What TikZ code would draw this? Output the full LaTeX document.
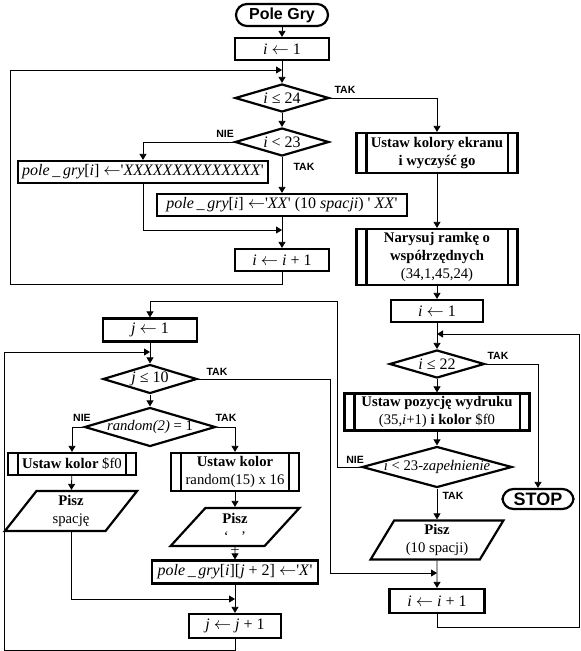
\documentclass[tikz,border=0pt]{standalone}
\usepackage{fontspec}
\setmainfont{Liberation Serif}
\newfontfamily\arial{Liberation Sans}
\usetikzlibrary{shapes.geometric, arrows.meta}
\newcommand{\qt}{\textquotesingle}
\newcommand{\nowidth}[1]{\makebox[0pt]{#1}}
\newcommand{\la}{\ensuremath{\leftarrow}}

\begin{document}
\begin{tikzpicture}[
            x = 1pt, y = -1pt,
            every node/.style={align=center, font=\fontsize{14.7}{18}\selectfont},
            line/.style={line width = .8pt},
            arrow/.style={line, -{Triangle[length=6pt, width=7pt]}},
            box/.style={draw, line width = 2.2pt, inner sep=1pt},
            expr/.style={font=\fontsize{16}{18}\selectfont},
            proc/.style={box, font=\bfseries\fontsize{14.7}{18}\selectfont},
            term/.style={box, rounded corners=11pt, font=\arial\bfseries\fontsize{16}{18}\selectfont},
            cond/.style={box, diamond, inner sep=0pt},
            io/.style={box, trapezium, trapezium left angle=62, trapezium right angle=118, trapezium stretches=true},
            lbl/.style={font=\arial\bfseries\fontsize{10.5}{11}\selectfont},
            ]
        \useasboundingbox (0,0) rectangle (581,651);

        % first loop
        \node[term, minimum width=92pt, minimum height=22pt] (start) at (282,15) {Pole Gry};
        \node[box, expr, minimum width=94pt, minimum height=22pt] (i1) at (282,49) {\textit{i} \la\ 1};
        \coordinate (m1) at (282,70);
        \node[cond, expr, minimum width=94pt, minimum height=28pt] (d1) at (282,98) {\nowidth{\textit{i} ≤ 24}};
        \node[cond, expr, minimum width=94pt, minimum height=28pt] (d2) at (282,142) {\nowidth{\textit{i} < 23}};
        \node[box, expr, minimum width=250pt, minimum height=22pt] (b1) at (143,172)
            {\textit{pole\,\_\,gry}[\textit{i}] \la\qt\textit{XXXXXXXXXXXXXX}\qt};
        \node[box, expr, minimum width=250pt, minimum height=22pt] (b2) at (282,205)
            {\textit{pole\,\_\,gry}[\textit{i}] \la\qt\textit{XX}\qt\ (10 \textit{spacji})\ \qt\ \textit{XX}\qt};
        \coordinate (m2) at (282,230);
        \node[box, expr, minimum width=94pt, minimum height=22pt] (inc1) at (282,260) {\textit{i} \la\ \textit{i} + 1};
        \coordinate (loop1) at (10,284);

        % right column
        \node[proc, minimum width=161pt, minimum height=40pt] (p1) at (437,153) {Ustaw kolory ekranu\\i wyczyść go};
        \node[proc, minimum width=161pt, minimum height=56pt] (p2) at (437,257)
            {Narysuj ramkę o\\współrzędnych\\\textmd{(34,1,45,24)}};
        \node[box, expr, minimum width=92pt, minimum height=22pt] (i2) at (437,311) {\textit{i} \la\ 1};
        \coordinate (m3) at (437,334);
        \node[cond, expr, minimum width=95pt, minimum height=28pt] (d3) at (437,364) {\nowidth{\textit{i} ≤ 22}};
        \node[proc, minimum width=185pt, minimum height=37pt] (p3) at (437,412)
            {Ustaw pozycję wydruku\\\textmd{(35,\textit{i}+1)} i kolor \textmd{\$f0}};
        \node[cond, minimum width=150pt, minimum height=41pt] (d4) at (437,467)
            {\nowidth{\textit{i} < 23-\textit{zapełnienie}}};
        \node[term, minimum width=71pt, minimum height=20pt, font=\arial\bfseries\fontsize{18}{20}\selectfont] (stop) at (538,499) {STOP};
        \node[io, minimum width=133pt, minimum height=39pt] (io1) at (437,540) {\textbf{Pisz}\\(10 spacji)};
        \coordinate (m4) at (437,573);
        \node[box, expr, minimum width=95pt, minimum height=24pt] (inc2) at (437,601) {\textit{i} \la\ \textit{i} + 1};
        \coordinate (loop2) at (579,627);

        % second loop
        \coordinate (c1) at (337,301);
        \coordinate (c2) at (330,379);
        \node[box, expr, minimum width=94pt, minimum height=23pt] (j1) at (150,330) {\textit{j} \la\ 1};
        \coordinate (m5) at (150,352);
        \node[cond, expr, minimum width=94pt, minimum height=29pt] (d5) at (150,379) {\nowidth{\textit{j} ≤ 10}};
        \node[cond, minimum width=131pt, minimum height=39pt] (d6) at (150,427) {\nowidth{\textit{random(2)} = 1}};
        \node[proc, minimum width=128pt, minimum height=22pt] (p4) at (72,464) {Ustaw kolor \textmd{\$f0}};
        \node[proc, minimum width=128pt, minimum height=38pt] (p5) at (235,472) {Ustaw kolor\\\textmd{random(15) x 16}};
        \node[io, minimum width=133pt, minimum height=40pt] (io2) at (71,511) {\textbf{Pisz}\\spację};
        \node[io, minimum width=129pt, minimum height=38pt] (io3) at (235,527)
            {\textbf{Pisz}\\‘\,\smash{\raisebox{-7pt}{\_}}\,’};
        \node[box, expr, minimum width=166pt, minimum height=23pt] (b3) at (235,572)
            {\textit{pole\,\_\,gry}[\textit{i}][\textit{j} + 2] \la\qt\textit{X}\qt};
        \coordinate (m6) at (235,599);
        \node[box, expr, minimum width=92pt, minimum height=24pt] (inc3) at (235,626) {\textit{j} \la\ \textit{j} + 1};
        \coordinate (loop3) at (4,650);

        % double bars
        \foreach \n in {p1, p2, p3, p4, p5}
            \draw[line width = 2.2pt] ([xshift=11pt]\n.north west) -- ([xshift=11pt]\n.south west)
                                      ([xshift=-11pt]\n.north east) -- ([xshift=-11pt]\n.south east);

        % labels
        \node[lbl] (t1) at (345,90) {TAK};
        \node[lbl] (n1) at (225,134) {NIE};
        \node[lbl] (t2) at (304,167) {TAK};
        \node[lbl] (t3) at (498,356) {TAK};
        \node[lbl] (n2) at (355,460) {NIE};
        \node[lbl] (t4) at (453,496) {TAK};
        \node[lbl] (t5) at (217,372) {TAK};
        \node[lbl] (n3) at (82,418) {NIE};
        \node[lbl] (t6) at (226,418) {TAK};

        % connectors
        \foreach \a/\b in {start/i1, i1/d1, d1/d2, d2/b2, b2/inc1, p1/p2, p2/i2, i2/d3, d3/p3, p3/d4,
                           d4/io1, io1/inc2, j1/d5, d5/d6, p4/io2, p5/io3, io3/b3, b3/inc3}
            \draw[arrow] (\a) -- (\b);

        \draw[arrow] (d1.east) -| (p1.north);
        \draw[arrow] (d2.west) -| (b1.north);
        \draw[arrow] (b1.south) |- (m2);
        \draw[arrow] (inc1.south) |- (loop1) |- (m1);
        \draw[arrow] (d3.east) -| (stop.north);
        \draw[arrow] (inc2.south) |- (loop2) |- (m3);
        \draw[arrow] (d4.west) -| (c1) -| (j1.north);
        \draw[arrow] (d5.east) -| (c2) |- (m4);
        \draw[arrow] (d6.west) -| (p4.north);
        \draw[arrow] (d6.east) -| (p5.north);
        \draw[arrow] (io2.south) |- (m6);
        \draw[arrow] (inc3.south) |- (loop3) |- (m5);
    \end{tikzpicture}
\end{document}
